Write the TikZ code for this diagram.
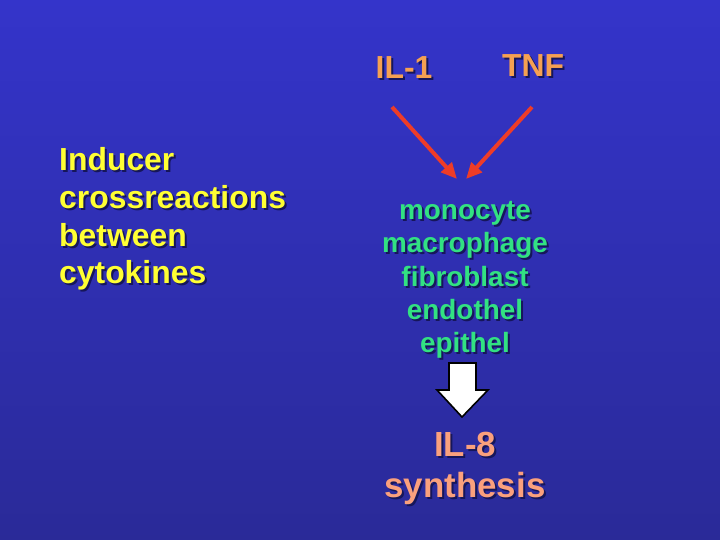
\documentclass[tikz,border=0pt]{standalone}
\usepackage{fontspec}
\setmainfont{Liberation Sans}
\usepackage{tikz}
\usetikzlibrary{arrows.meta}

\definecolor{bgtop}{RGB}{52,52,202}
\definecolor{bgbot}{RGB}{42,42,152}
\definecolor{shadowcol}{RGB}{22,22,90}
\definecolor{cytocol}{RGB}{245,160,82}
\definecolor{inducecol}{RGB}{255,255,51}
\definecolor{cellcol}{RGB}{50,225,130}
\definecolor{il8col}{RGB}{250,160,125}
\definecolor{redarrow}{RGB}{238,60,40}

% one line of text with a dark drop shadow
\newcommand{\shd}[1]{\rlap{\kern2bp\raisebox{-2bp}{\textcolor{shadowcol}{#1}}}#1}

\tikzset{
 cytokine/.style={font=\bfseries\fontsize{32}{38}\selectfont,text=cytocol,anchor=base,inner sep=0pt},
 inducer/.style={font=\bfseries\fontsize{32}{38}\selectfont,text=inducecol,align=left,anchor=north west,inner sep=0pt},
 celllist/.style={font=\bfseries\fontsize{28}{33.5}\selectfont,text=cellcol,align=center,anchor=north,inner sep=0pt},
 synthtext/.style={font=\bfseries\fontsize{35}{41}\selectfont,text=il8col,align=center,anchor=north,inner sep=0pt},
 induces/.style={redarrow,line width=4bp,-{Triangle[length=16bp,width=14bp]}}
}

\begin{document}
\begin{tikzpicture}[x=1bp,y=-1bp]
% background
 \shade[top color=bgtop,bottom color=bgbot] (0,0) rectangle (720,540);
 \useasboundingbox (0,0) rectangle (720,540);
% left text
 \node[inducer] (inducer) at (59,147) {\shd{Inducer}\\\shd{crossreactions}\\\shd{between}\\\shd{cytokines}};
% IL-1 and TNF
 \node[cytokine] (il1) at (404,79) {\shd{IL-1}};
 \node[cytokine] (tnf) at (533,77) {\shd{TNF}};
 \coordinate (il1tail) at (392,107);
 \coordinate (tnftail) at (532,107);
 \coordinate (il1head) at (457,179);
 \coordinate (tnfhead) at (466,179);
 \draw[induces] (il1tail)--(il1head);
 \draw[induces] (tnftail)--(tnfhead);
% target cells
 \node[celllist] (targets) at (465,201)
   {\shd{monocyte}\\\shd{macrophage}\\\shd{fibroblast}\\\shd{endothel}\\\shd{epithel}};
% white block arrow
 \coordinate (blk) at (462,363);
 \draw[fill=white,line width=1.6bp,line join=miter] (blk)++(-13,0)--++(27,0)--++(0,27)--++(12,0)
   --(462,417)--(437,390)--(449,390)--cycle;
% IL-8
 \node[synthtext] (il8) at (465,432) {\shd{IL-8}\\\shd{synthesis}};
\end{tikzpicture}
\end{document}
